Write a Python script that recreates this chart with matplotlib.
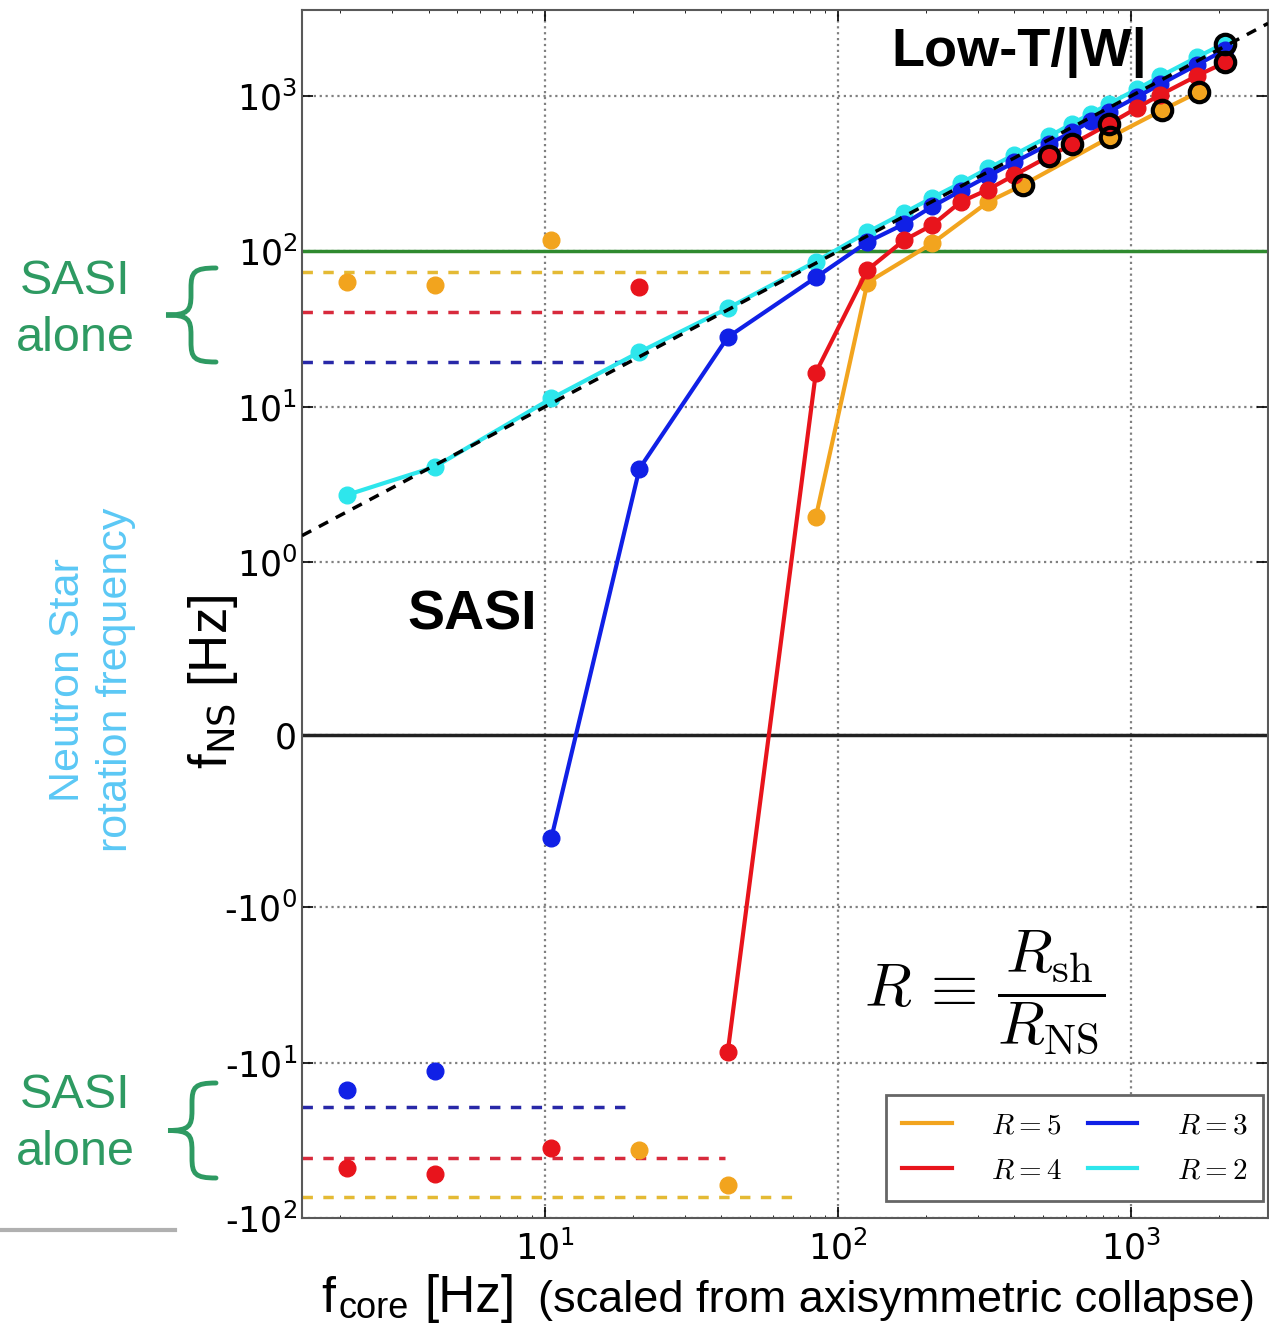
import matplotlib
matplotlib.use("Agg")
import matplotlib.pyplot as plt
from matplotlib.path import Path
from matplotlib.patches import PathPatch
from matplotlib.lines import Line2D
from matplotlib.font_manager import FontProperties
from matplotlib.ticker import FuncFormatter
import numpy as np

W, H = 1269, 1325

# core rotation frequency [Hz] and neutron star rotation frequency [Hz]
cyan_x = [2.1, 4.2, 10.5, 21, 42, 84, 126, 168, 210, 262, 325, 400, 525, 630, 730, 840, 1050, 1260, 1680, 2100]
cyan_y = [2.7, 4.1, 11.3, 22.5, 43, 86, 133, 177, 222, 275, 342, 420, 550, 665, 770, 890, 1110, 1340, 1780, 2200]

blue_x = [10.5, 21, 42, 84, 126, 168, 210, 262, 325, 400, 525, 630, 730, 840, 1050, 1260, 1680, 2100]
blue_y = [-0.6, 4.0, 28, 68, 115, 150, 195, 245, 305, 375, 490, 590, 690, 790, 990, 1190, 1590, 1990]

red_x = [42, 84, 126, 168, 210, 262, 325, 400, 525, 630, 840, 1050, 1260, 1680, 2100]
red_y = [-8.6, 16.6, 76, 118, 148, 208, 250, 310, 410, 490, 660, 840, 1020, 1350, 1650]

orange_x = [84, 126, 210, 325, 428, 850, 1280, 1700]
orange_y = [1.95, 63, 113, 208, 268, 545, 813, 1062]

# isolated points (SASI alone)
orange_sasi_x = [2.1, 4.2, 10.5, 21, 42]
orange_sasi_y = [64, 61, 118, -36.4, -61]
red_sasi_x = [2.1, 4.2, 10.5, 21]
red_sasi_y = [-47.6, -52, -35.3, 59]
blue_sasi_x = [2.1, 4.2]
blue_sasi_y = [-14.9, -11.3]

# SASI frequencies for R=5, 4, 3
sasi_freq = [73.5, 41, 19.3]

# low-T/|W| points (open black circles)
lowtw_x = [428, 850, 1280, 1700, 525, 630, 840, 2100, 2100]
lowtw_y = [268, 545, 813, 1062, 410, 490, 660, 1650, 2150]

c_orange = "#f2a41e"
c_red = "#e8141c"
c_blue = "#1020e6"
c_cyan = "#2ee6ec"
c_green = "#2e9a62"
dash_cols = ["#e4ba34", "#d82a3c", "#2828a8"]

fig = plt.figure(figsize=(W / 100, H / 100), dpi=100)
ax = fig.add_axes([302 / W, 1 - 1218 / H, (1268 - 302) / W, (1218 - 10) / H])
ax.set_xscale("log")
ax.set_yscale("symlog", linthresh=1, linscale=1)
xmin, xmax = 1.48, 2935
ax.set_xlim(xmin, xmax)
ax.set_ylim(-100, 3580)


def symfmt(v, pos):
    if v == 0:
        return "0"
    e = int(round(np.log10(abs(v))))
    s = r"$10^{%d}$" % e
    return s if v > 0 else "-" + s


ax.yaxis.set_major_formatter(FuncFormatter(symfmt))

ax.grid(True, which="major", color="0.5", linestyle=":", linewidth=1.6)
ax.axhline(100, color="#2f8a2f", lw=2.5, zorder=2)
ax.axhline(0, color="#222222", lw=2.5, zorder=2)

for f, c in zip(sasi_freq, dash_cols):
    ax.hlines([f, -f], xmin, f, colors=c, linestyles=(0, (3, 3)), lw=2.5, zorder=2)

ms = 12
h2, = ax.plot(cyan_x, cyan_y, "-o", color=c_cyan, lw=3, ms=ms, zorder=3)
h3, = ax.plot(blue_x, blue_y, "-o", color=c_blue, lw=3, ms=ms, zorder=4)
h4, = ax.plot(red_x, red_y, "-o", color=c_red, lw=3, ms=ms, zorder=5)
h5, = ax.plot(orange_x, orange_y, "-o", color=c_orange, lw=3, ms=ms, zorder=4.5)
ax.plot(orange_sasi_x, orange_sasi_y, "o", color=c_orange, ms=ms, zorder=5)
ax.plot(red_sasi_x, red_sasi_y, "o", color=c_red, ms=ms, zorder=5)
ax.plot(blue_sasi_x, blue_sasi_y, "o", color=c_blue, ms=ms, zorder=5)
ax.plot(lowtw_x, lowtw_y, "o", mfc="none", mec="black", mew=3, ms=14, zorder=6)

ax.plot([xmin, xmax], [xmin, xmax], color="black", lw=2.5, linestyle=(0, (3, 2.5)), zorder=6)

ax.tick_params(which="both", direction="in", top=True, right=True, labelsize=25)
ax.tick_params(which="major", length=8, width=1.2)
ax.tick_params(axis="x", pad=9)
for s in ax.spines.values():
    s.set_color("0.35")
    s.set_linewidth(1.5)

leg_font = FontProperties(size=21, math_fontfamily="cm")
leg = fig.legend([h5, h4, h3, h2], [r"$R=5$", r"$R=4$", r"$R=3$", r"$R=2$"],
                 ncol=2, loc="upper left", bbox_to_anchor=(886 / W, 1 - 1095 / H),
                 prop=leg_font, fancybox=False, edgecolor="0.4", framealpha=1,
                 handlelength=1.7, handletextpad=1.35, columnspacing=0.9,
                 borderaxespad=0, borderpad=0.55, labelspacing=0.6)
leg.get_frame().set_linewidth(2)
for hnd in leg.legend_handles:
    hnd.set_marker("")


def fx(px):
    return px / W


def fy(py):
    return 1 - py / H


sans = "Liberation Sans"
fig.text(fx(1019), fy(52), "Low-T/|W|", fontsize=39, fontweight="bold", family=sans,
         ha="center", va="center")
fig.text(fx(472), fy(616), "SASI", fontsize=40, fontweight="bold", family=sans,
         ha="center", va="center")
eq = fig.text(fx(985), fy(992), r"$R\,\equiv\,\dfrac{R_{\rm sh}}{R_{\rm NS}}$", fontsize=44,
              ha="center", va="center")
eq.set_math_fontfamily("cm")

for yc in (310, 1124):
    fig.text(fx(75), fy(yc), "SASI\nalone", fontsize=35, family=sans, color=c_green,
             ha="center", va="center", linespacing=1.35)

fig.text(fx(92), fy(680), "Neutron Star\nrotation frequency", fontsize=31, family=sans,
         color="#5bc8f5", rotation=90, ha="center", va="center", multialignment="center",
         linespacing=1.27)
yl = fig.text(fx(213), fy(682), r"f$_{\mathrm{NS}}$ [Hz]", fontsize=38, family=sans,
              rotation=90, ha="center", va="center")
yl.set_math_fontfamily("dejavusans")

fig.text(fx(321), fy(1312), "f", fontsize=36, family=sans, ha="left", va="baseline")
fig.text(fx(338), fy(1318), "core", fontsize=26, family=sans, ha="left", va="baseline")
fig.text(fx(424), fy(1312), "[Hz]", fontsize=37, family=sans, ha="left", va="baseline")
fig.text(fx(538), fy(1312), "(scaled from axisymmetric collapse)", fontsize=32.5, family=sans,
         ha="left", va="baseline")


def brace(x_end, x_tip, y_top, y_bot):
    xm = (x_end + x_tip) / 2
    ym = (y_top + y_bot) / 2
    r = 20
    pts = [(x_end, y_top),
           (xm + 3, y_top), (xm, y_top + 4), (xm, y_top + r),
           (xm, ym - r),
           (xm, ym - 4), (xm - 3, ym), (x_tip, ym),
           (xm - 3, ym), (xm, ym + 4), (xm, ym + r),
           (xm, y_bot - r),
           (xm, y_bot - 4), (xm + 3, y_bot), (x_end, y_bot)]
    codes = [Path.MOVETO,
             Path.CURVE4, Path.CURVE4, Path.CURVE4,
             Path.LINETO,
             Path.CURVE4, Path.CURVE4, Path.CURVE4,
             Path.CURVE4, Path.CURVE4, Path.CURVE4,
             Path.LINETO,
             Path.CURVE4, Path.CURVE4, Path.CURVE4]
    verts = [(fx(a), fy(b)) for a, b in pts]
    fig.add_artist(PathPatch(Path(verts, codes), transform=fig.transFigure,
                             fill=False, edgecolor=c_green, lw=3.5, capstyle="round"))


brace(216, 166, 268, 362)
brace(216, 168, 1083, 1178)

fig.add_artist(Line2D([0, fx(175)], [fy(1230), fy(1230)], transform=fig.transFigure,
                      color="#b0b0b0", lw=3))

fig.savefig("out.png", dpi=100)
